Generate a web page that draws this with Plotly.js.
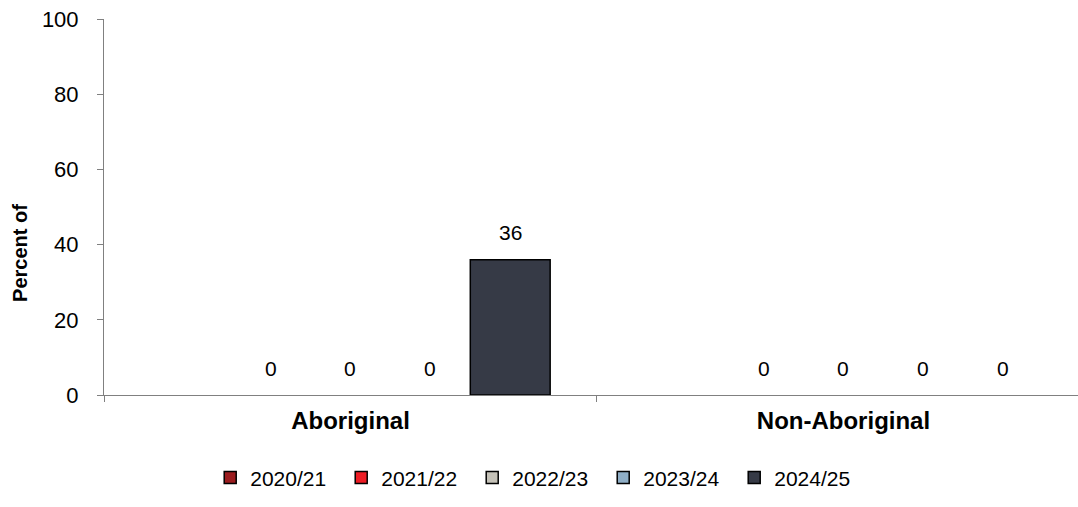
<!DOCTYPE html>
<html>
<head>
<meta charset="utf-8">
<script src="https://cdn.plot.ly/plotly-3.0.1.min.js"></script>
<style>html,body{margin:0;padding:0;background:#fff;}#chart{width:1078px;height:507px;}</style>
</head>
<body>
<div id="chart"></div>
<script>
const categories = ["Aboriginal", "Non-Aboriginal"];
const seriesNames = ["2020/21", "2021/22", "2022/23", "2023/24", "2024/25"];
const v2020 = [null, null];
const v2021 = [0, 0];
const v2022 = [0, 0];
const v2023 = [0, 0];
const v2024 = [36, 0];
const colors = ["#9B1C1F", "#ED1C24", "#C5C2B8", "#8FAEC6", "#363A46"];
const yTitle = "Percent of";
const allValues = [v2020, v2021, v2022, v2023, v2024];

const font = "Liberation Sans, Arial, sans-serif";
const bargap = 0.19;
const nSeries = allValues.length;

// zero-height bars are not drawn (their outline would sit on the axis)
const traces = allValues.map((vals, i) => ({
  type: "bar",
  name: seriesNames[i],
  x: categories,
  y: vals.map(v => (v ? v : null)),
  marker: {color: colors[i], line: {color: "#000", width: 1.5}}
}));

// value labels placed through the category axis, offset to each bar's slot
const annotations = [];
allValues.forEach((vals, i) => {
  const slot = (1 - bargap) / nSeries;
  const off = (i - (nSeries - 1) / 2) * slot;
  vals.forEach((v, j) => {
    if (v === null) return;
    annotations.push({
      x: j + off, y: v, xref: "x", yref: "y",
      text: String(v), showarrow: false,
      yanchor: "bottom", yshift: v ? 14 : 13,
      font: {family: font, size: 21, color: "#000"}
    });
  });
});

// y-axis title (placed like the source, below the plot's mid-height)
annotations.push({
  text: "<b>" + yTitle + "</b>", xref: "paper", yref: "paper",
  x: -0.0862, y: 0.378, xanchor: "center", yanchor: "middle",
  textangle: -90, showarrow: false,
  font: {family: font, size: 20, color: "#000"}
});

const layout = {
  width: 1078, height: 507,
  margin: {l: 104, r: 0, t: 19, b: 112},
  paper_bgcolor: "#fff", plot_bgcolor: "#fff",
  barmode: "group", bargap: bargap, bargroupgap: 0,
  showlegend: true,
  legend: {orientation: "h", xref: "container", yref: "container",
           x: 0.195, xanchor: "left", y: 0.098, yanchor: "top",
           font: {family: font, size: 21, color: "#000"}, traceorder: "normal",
           itemwidth: 30, entrywidth: 86, entrywidthmode: "pixels"},
  annotations: annotations,
  xaxis: {
    type: "category", range: [-0.5, 1.4757],
    showline: true, linecolor: "#808080", linewidth: 1,
    ticks: "outside", tickson: "boundaries", ticklen: 6, tickcolor: "#808080",
    tickfont: {family: font, size: 24, color: "#000", weight: "bold"},
    ticklabelstandoff: 4,
    showgrid: false, zeroline: false
  },
  yaxis: {
    range: [0, 100], dtick: 20,
    showline: true, linecolor: "#808080", linewidth: 1,
    ticks: "outside", ticklen: 6, tickcolor: "#808080",
    tickfont: {family: font, size: 22, color: "#000"},
    ticklabelstandoff: 14,
    showgrid: false, zeroline: false
  },
  font: {family: font, size: 20, color: "#000"}
};

Plotly.newPlot("chart", traces, layout, {displayModeBar: false, staticPlot: true});
</script>
</body>
</html>
